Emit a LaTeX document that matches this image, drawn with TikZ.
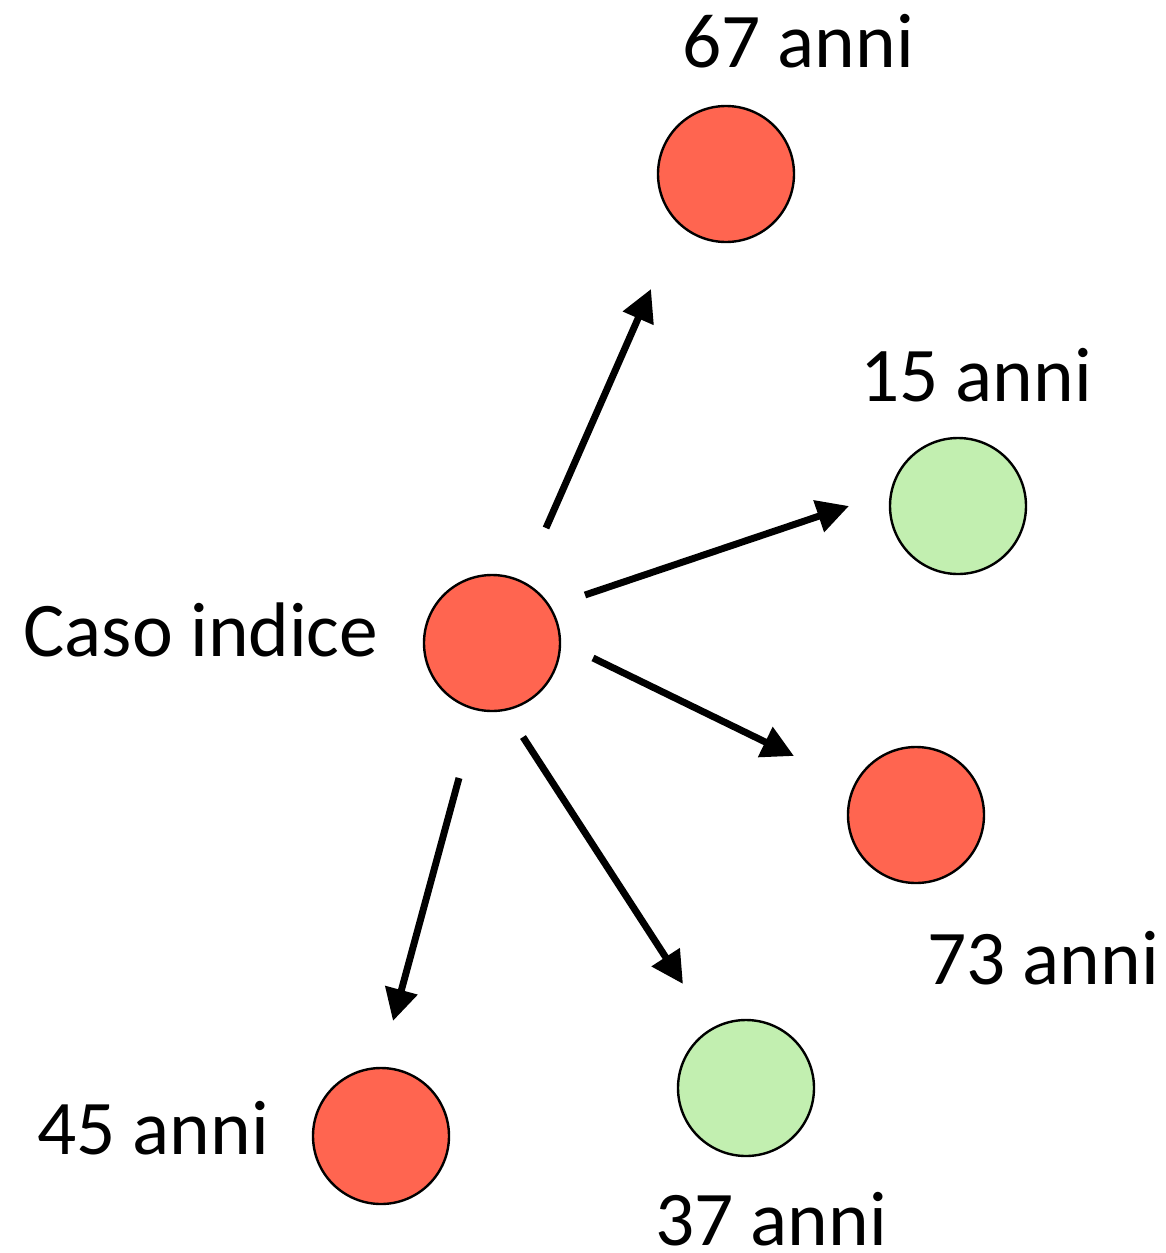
\documentclass[tikz,border=0pt]{standalone}
\usepackage{fontspec}
\setmainfont{Carlito}
\usetikzlibrary{arrows.meta}
\definecolor{redc}{HTML}{FF6550}
\definecolor{greenc}{HTML}{C2EFB0}
\begin{document}
\begin{tikzpicture}[x=0.75pt,y=-0.75pt,
  person/.style={circle,draw=black,line width=1.8pt,minimum size=102pt,inner sep=0pt},
  redperson/.style={person,fill=redc},
  greenperson/.style={person,fill=greenc},
  lab/.style={font=\fontsize{58}{60}\selectfont,inner sep=0pt,anchor=base},
  arr/.style={line width=5.2pt,-{Triangle[length=24pt,width=24pt]}}]
\useasboundingbox (0,0) rectangle (1166,1253);
\node[redperson] (idx) at (492,643) {};
\node[redperson] (p67) at (726,174) {};
\node[greenperson] (p15) at (958,506) {};
\node[redperson] (p73) at (916,815) {};
\node[greenperson] (p37) at (746,1088) {};
\node[redperson] (p45) at (381,1136) {};
\node[lab] (tidx) at (201,656) {Caso indice};
\node[lab] (t67) at (798,67) {67 anni};
\node[lab] (t15) at (976,401) {15 anni};
\node[lab] (t73) at (1043,984) {73 anni};
\node[lab] (t45) at (153,1154) {45 anni};
\node[lab] (t37) at (771,1245) {37 anni};
\coordinate (a1s) at (546,528); \coordinate (a1e) at (651,289);
\coordinate (a2s) at (585,595); \coordinate (a2e) at (849,506);
\coordinate (a3s) at (593,658); \coordinate (a3e) at (794,756);
\coordinate (a4s) at (523,737); \coordinate (a4e) at (683,984);
\coordinate (a5s) at (459,778); \coordinate (a5e) at (393,1021);
\draw[arr] (a1s) -- (a1e);
\draw[arr] (a2s) -- (a2e);
\draw[arr] (a3s) -- (a3e);
\draw[arr] (a4s) -- (a4e);
\draw[arr] (a5s) -- (a5e);
\end{tikzpicture}
\end{document}
